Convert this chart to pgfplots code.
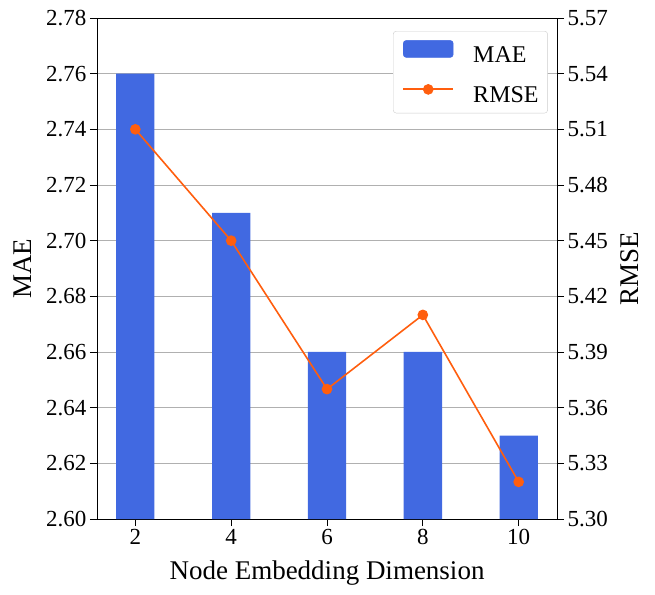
\documentclass[border=0pt]{standalone}
\usepackage{fontspec}
\setmainfont{Liberation Serif}
\usepackage{pgfplots}
\pgfplotsset{compat=1.18}
\definecolor{barblue}{HTML}{4169E1}
\definecolor{lineor}{RGB}{255,94,14}
\definecolor{gridgray}{RGB}{176,176,176}
\definecolor{legframe}{RGB}{204,204,204}
\begin{document}
\begin{tikzpicture}
\path[use as bounding box] (-97pt,-75pt) rectangle (558pt,519pt);
\pgfplotsset{every axis/.append style={
  scale only axis, width=460pt, height=501pt,
  at={(0pt,0pt)}, anchor=south west,
  xmin=-0.4, xmax=4.4,
  axis line style={black, line width=0.8pt},
  tick style={black, line width=0.8pt},
  major tick length=7pt, tick align=outside,
  /pgf/number format/assume math mode=true,
  tick label style={font=\fontsize{23}{27}\selectfont},
  label style={font=\fontsize{27}{32}\selectfont},
}}
\begin{axis}[
  ybar, bar width=0.4,
  ymin=2.60, ymax=2.78,
  ytick={2.60,2.62,2.64,2.66,2.68,2.70,2.72,2.74,2.76,2.78},
  yticklabel style={/pgf/number format/.cd, fixed, fixed zerofill, precision=2},
  xtick={0,1,2,3,4}, xticklabels={2,4,6,8,10},
  xtick pos=bottom, ytick pos=left,
  ymajorgrids, grid style={gridgray, line width=0.8pt},
  xlabel={Node Embedding Dimension}, ylabel={MAE},
  xlabel style={yshift=-9pt},
  ylabel style={yshift=8pt},
]
\addplot[fill=barblue, draw=none] coordinates {(0,2.76) (1,2.71) (2,2.66) (3,2.66) (4,2.63)};
\end{axis}
\begin{axis}[
  ymin=5.30, ymax=5.57,
  ytick={5.30,5.33,5.36,5.39,5.42,5.45,5.48,5.51,5.54,5.57},
  yticklabel style={/pgf/number format/.cd, fixed, fixed zerofill, precision=2},
  axis x line=none, axis y line*=right, ytick pos=right,
  ylabel={RMSE},
  ylabel style={yshift=-6pt},
  legend style={at={(0.980,0.974)}, anchor=north east,
    font=\fontsize{24}{28}\selectfont, draw=legframe, fill=white,
    rounded corners=3pt, inner xsep=9pt, inner ysep=9pt, row sep=20pt,
    nodes={inner sep=0pt},
    /tikz/every odd column/.append style={column sep=19pt}},
  legend cell align=left,
]
\addlegendimage{legend image code/.code={\fill[barblue] (0pt,-2pt) rectangle (50pt,15pt);}}
\addlegendentry{MAE}
\addplot[lineor, line width=1.6pt, mark=*, mark size=4.5pt, mark options={fill=lineor, draw=lineor},
  legend image code/.code={\draw[draw=lineor, line width=2pt, sharp corners] (0pt,6pt) -- (50pt,6pt); \fill[lineor] (25pt,6pt) circle (4.5pt);}]
  coordinates {(0,5.51) (1,5.45) (2,5.37) (3,5.41) (4,5.32)};
\addlegendentry{RMSE}
\end{axis}
\end{tikzpicture}
\end{document}
